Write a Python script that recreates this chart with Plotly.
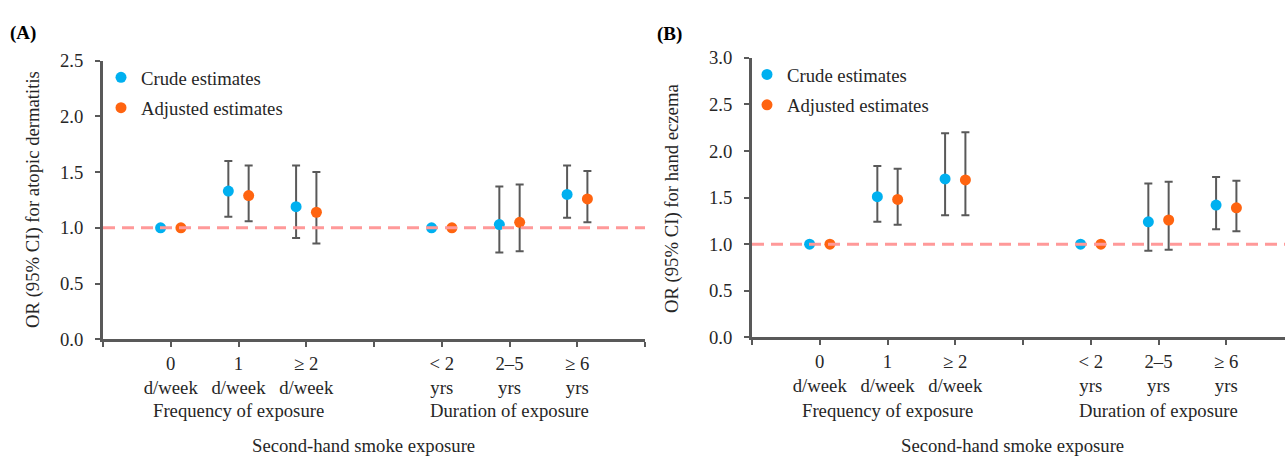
import plotly.graph_objects as go

# ---------------- data ----------------
cat_pos = [1, 2, 3, 5, 6, 7]
tick_labels = ["0<br>d/week", "1<br>d/week", "\u2265 2<br>d/week",
               "< 2<br>yrs", "2\u20135<br>yrs", "\u2265 6<br>yrs"]
group_labels = ["Frequency of exposure", "Duration of exposure"]
group_pos = [2, 6]

# Panel A: atopic dermatitis
a_crude = [1.00, 1.33, 1.19, 1.00, 1.03, 1.30]
a_crude_lo = [1.00, 1.10, 0.91, 1.00, 0.78, 1.09]
a_crude_hi = [1.00, 1.60, 1.56, 1.00, 1.37, 1.56]
a_adj = [1.00, 1.29, 1.14, 1.00, 1.05, 1.26]
a_adj_lo = [1.00, 1.06, 0.86, 1.00, 0.79, 1.05]
a_adj_hi = [1.00, 1.56, 1.50, 1.00, 1.39, 1.51]

# Panel B: hand eczema
b_crude = [1.00, 1.51, 1.70, 1.00, 1.24, 1.42]
b_crude_lo = [1.00, 1.24, 1.31, 1.00, 0.93, 1.16]
b_crude_hi = [1.00, 1.84, 2.19, 1.00, 1.65, 1.72]
b_adj = [1.00, 1.48, 1.69, 1.00, 1.26, 1.39]
b_adj_lo = [1.00, 1.21, 1.31, 1.00, 0.94, 1.14]
b_adj_hi = [1.00, 1.81, 2.20, 1.00, 1.67, 1.68]

REF_OR = 1.0
OFFSET = 0.15

# ---------------- style ----------------
FONT = "Liberation Serif"
TXT = "#262626"
AX = "#595959"
C_CRUDE = "#00B0F0"
C_ADJ = "#FF6410"
FS = 18.7

W, H = 1285, 464


def px_x(p):
    return p / W


def px_y(p):
    return (H - p) / H


fig = go.Figure()


def add_panel(xa, ya, legend, crude, clo, chi, adj, alo, ahi):
    for name, vals, lo, hi, col, off in [
        ("Crude estimates", crude, clo, chi, C_CRUDE, -OFFSET),
        ("Adjusted estimates", adj, alo, ahi, C_ADJ, OFFSET),
    ]:
        fig.add_trace(go.Scatter(
            x=[c + off for c in cat_pos], y=vals, mode="markers",
            name=name, xaxis=xa, yaxis=ya, legend=legend,
            legendgroup=legend + name,
            marker=dict(color=col, size=11, line=dict(width=0)),
            error_y=dict(type="data", symmetric=False,
                         array=[h - v for h, v in zip(hi, vals)],
                         arrayminus=[v - l for v, l in zip(vals, lo)],
                         color=AX, thickness=2, width=4),
            hoverinfo="skip",
        ))


add_panel("x", "y", "legend", a_crude, a_crude_lo, a_crude_hi, a_adj, a_adj_lo, a_adj_hi)
add_panel("x2", "y2", "legend2", b_crude, b_crude_lo, b_crude_hi, b_adj, b_adj_lo, b_adj_hi)

xticks = [0, 1, 2, 3, 4, 5, 6, 7, 8]
lab_map = dict(zip(cat_pos, tick_labels))
xtext = [lab_map.get(t, "") for t in xticks]

common_x = dict(showline=True, linecolor=AX, linewidth=3, ticks="outside",
                tickcolor=AX, ticklen=5, tickwidth=2, tickvals=xticks,
                ticktext=xtext, showgrid=False, zeroline=False,
                tickfont=dict(family=FONT, size=FS, color=TXT), fixedrange=True)
common_y = dict(showline=True, linecolor=AX, linewidth=3, ticks="outside",
                tickcolor=AX, ticklen=5, tickwidth=2, dtick=0.5,
                tickformat=".1f", showgrid=False, zeroline=False,
                tickfont=dict(family=FONT, size=FS, color=TXT),
                ticklabelstandoff=8, fixedrange=True)

xa_dom = [px_x(103), px_x(645)]
xb_dom = [px_x(752), 1.0]
unit = (645 - 103) / 8.0
xb_max = (W - 752) / unit

fig.update_layout(
    width=W, height=H,
    margin=dict(l=0, r=0, t=0, b=0),
    paper_bgcolor="white", plot_bgcolor="white",
    font=dict(family=FONT, size=FS, color=TXT),
    xaxis=dict(domain=xa_dom, range=[0, 8], anchor="y", **common_x),
    yaxis=dict(domain=[px_y(345), px_y(53)], range=[0, 2.5], anchor="x", **common_y),
    xaxis2=dict(domain=xb_dom, range=[0, xb_max], anchor="y2", **common_x),
    yaxis2=dict(domain=[px_y(343), px_y(50)], range=[0, 3.0], anchor="x2", **common_y),
    legend=dict(x=px_x(101), y=px_y(51), xanchor="left", yanchor="top",
                bgcolor="rgba(0,0,0,0)", tracegroupgap=3, itemwidth=30,
                font=dict(family=FONT, size=FS, color=TXT)),
    legend2=dict(x=px_x(747), y=px_y(48), xanchor="left", yanchor="top",
                 bgcolor="rgba(0,0,0,0)", tracegroupgap=3, itemwidth=30,
                 font=dict(family=FONT, size=FS, color=TXT)),
    showlegend=True,
)

# reference line OR = 1
for xr, yr in [("x", "y"), ("x2", "y2")]:
    fig.add_shape(type="line", xref=xr + " domain", yref=yr, x0=0, x1=1,
                  y0=REF_OR, y1=REF_OR,
                  line=dict(color="#FF9999", width=3, dash="12px,7px"), layer="above")

annots = []
for xr in ["x", "x2"]:
    for g, lab in zip(group_pos, group_labels):
        annots.append(dict(x=g, xref=xr, y=px_y(420), yref="paper", text=lab,
                           showarrow=False, xanchor="center", yanchor="middle",
                           font=dict(family=FONT, size=FS, color=TXT)))
    annots.append(dict(x=3.85, xref=xr, y=px_y(456), yref="paper",
                       text="Second-hand smoke exposure", showarrow=False,
                       xanchor="center", yanchor="middle",
                       font=dict(family=FONT, size=FS, color=TXT)))

annots += [
    dict(x=px_x(33), y=px_y(199), xref="paper", yref="paper",
         text="OR (95% CI) for atopic dermatitis", textangle=-90, showarrow=False,
         xanchor="center", yanchor="middle", font=dict(family=FONT, size=FS, color=TXT)),
    dict(x=px_x(672), y=px_y(197), xref="paper", yref="paper",
         text="OR (95% CI) for hand eczema", textangle=-90, showarrow=False,
         xanchor="center", yanchor="middle", font=dict(family=FONT, size=FS, color=TXT)),
    dict(x=px_x(8), y=px_y(24), xref="paper", yref="paper", text="<b>(A)</b>",
         showarrow=False, xanchor="left", yanchor="middle",
         font=dict(family=FONT, size=19, color="#000")),
    dict(x=px_x(655), y=px_y(25), xref="paper", yref="paper", text="<b>(B)</b>",
         showarrow=False, xanchor="left", yanchor="middle",
         font=dict(family=FONT, size=19, color="#000")),
]
fig.update_layout(annotations=annots)

fig.write_html("out.html",
               config={"displayModeBar": False, "staticPlot": True},
               post_script="document.body.style.margin='0';document.body.style.overflow='hidden';")
